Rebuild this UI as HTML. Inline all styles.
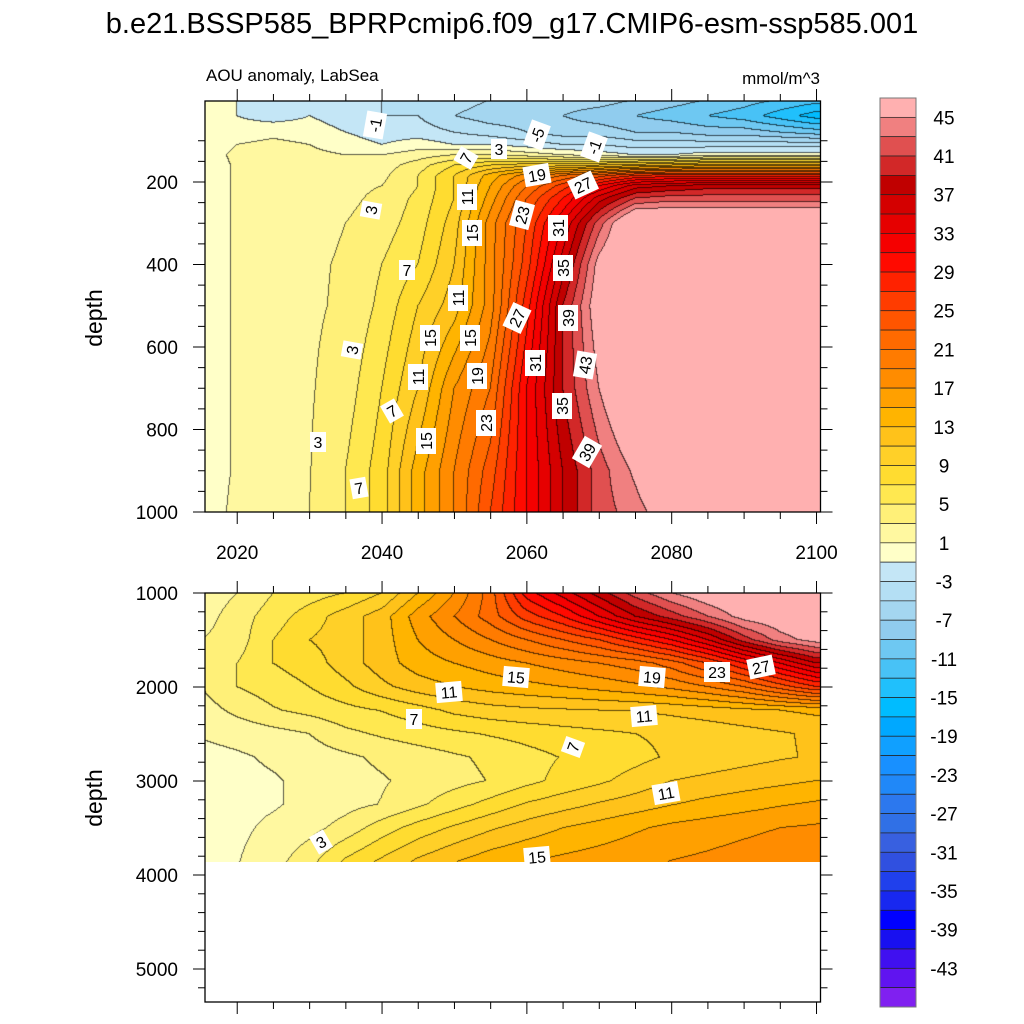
<!DOCTYPE html>
<html><head><meta charset="utf-8"><style>
body{margin:0;background:#fff;width:1024px;height:1024px;position:relative;overflow:hidden;font-family:"Liberation Sans",sans-serif}
canvas{position:absolute}
svg{position:absolute;left:0;top:0}
</style></head><body>
<canvas id="c1" width="616" height="411" style="left:205px;top:101px"></canvas>
<canvas id="c2" width="616" height="269" style="left:205px;top:593px"></canvas>
<svg id="s" width="1024" height="1024"></svg>
<script>
// ---------- data ----------
const years = [2015,2020,2025,2030,2035,2040,2045,2050,2055,2060,2065,2070,2075,2080,2085,2090,2095,2100];
const depthsTop = [0,40,80,110,135,160,185,210,240,300,400,500,700,900,1000];
const aouTop = [
 [-1,-1,-2,-2,-3,-3,-3,-4,-5,-5,-6,-6,-7,-8,-9,-10,-11,-12],
 [0,-1,-2,-1,-2,-3,-3,-5,-6,-6,-7,-8,-9,-10,-11,-12,-14,-16],
 [0.5,0,0.5,0,-1,-2,-2,-3,-4,-5,-6,-6,-7,-7,-8,-8,-9,-10],
 [0.5,1,1.5,1,0,-1,0,-1,-1,-2,-3,-3,-4,-4,-4,-4,-4,-4],
 [0.5,1.2,1.5,1.5,1,1,2,3,3,2,1,0,-1,-1,0,0,0,0],
 [0.5,1.1,2,2,2,2,4,7,9,10,10,11,12,13,14,14,14,14],
 [0.5,1.1,2,2,2,2.5,5,9,14,18,21,24,27,28,28,28,28,28],
 [0.5,1.1,2,2,2.5,3,5,9,15,21,26,31,36,37,38,38,38,38],
 [0.5,1.1,2,2.2,2.5,3.5,5.5,9,16,23,29,36,41,42,42,42,42,42],
 [0.5,1.1,2,2.5,3,4,6,10,18,25,33,42,50,50,50,50,50,50],
 [0.5,1.1,2.2,2.7,3.2,5,7,11,18,26,36,46,50,50,50,50,50,50],
 [0.5,1.1,2.3,2.7,3.3,5.5,9,12,18,28,39,47,50,50,50,50,50,50],
 [0.5,1.1,2.4,2.8,4,7,11,17,21,31,39,45,50,50,50,50,50,50],
 [0.5,1.1,2.5,2.9,5,8,14,19,24,31,37,42,45.5,50,50,50,50,50],
 [0.5,1.2,2.6,3,5,8,14,19,25,31,37,42,44,47,50,50,50,50]
];
const depthsBot = [1000,1250,1500,1750,2000,2250,2500,2750,3000,3250,3500,3870];
const aouBot = [
 [1.5,3,5,6,7,9,13,17,22,30,34,38,42,45,47,48,50,50],
 [2,4,6,8,10,12,16,19,22,26,29,33,37,40,43,46,47,48],
 [3,4,7,9,10,12,15,17,19,21,23,25,28,31,35,40,44,46],
 [3,5,7,8,10,12,14,15,16,17,18,19,20,22,25,29,33,37],
 [3,5,6,7,8.5,10.5,12,13,13.8,14.4,15,15.7,16.5,17.5,19,21,24,27],
 [2,3.5,4.8,5.6,6.4,7.1,8.2,9.5,10.2,10.6,10.8,11,11.1,11.5,12,12.5,13,13.5],
 [1.2,1.7,2.3,3,4.5,5.3,6,6.6,7.2,7.7,8.2,8.6,9,9.4,9.8,10.3,10.8,11.3],
 [0.3,0.7,1.3,2,2.6,3.4,4,4.7,5.4,6.3,7.1,7.7,8.4,9.3,9.8,10.3,10.8,11.2],
 [0.3,0.5,0.8,1.5,2.2,2.8,3.6,4.3,5.1,6.4,7.6,8.6,9.8,11,11.5,12,12.5,13],
 [0.3,0.5,0.8,1.5,2.3,3.1,4.6,6.2,7.7,9.2,10.2,11.2,12,12.9,13.6,14.2,14.8,15.3],
 [0.3,0.6,1.4,2.3,3.8,6,7.8,9.3,10.7,11.9,13,13.8,14.7,15.5,16,16.5,17,17.3],
 [0.5,0.9,2.2,4.4,7.5,9.5,11.5,13,14.3,15.1,15.6,16.1,16.6,17.1,17.5,18,18.5,19]
];
const levelLabels = [45,41,37,33,29,25,21,17,13,9,5,1,-3,-7,-11,-15,-19,-23,-27,-31,-35,-39,-43];
const palette = ["#ffb0b0","#f08080","#e05050","#d22828","#c00000","#d40000","#e60000","#f50000","#ff0a00","#ff2200","#ff3c00","#ff5500","#ff6a00","#ff7b00","#ff8c00","#ffa000","#ffb400","#ffc21a","#ffd028","#ffdc30","#ffe850","#fff078","#fff8a0","#ffffc8","#c4e6f6","#b4dff4","#a4d6f0","#90ccee","#6ec8f2","#48c2f6","#20c0fc","#00bcff","#00a8ff","#10a0ff","#1890ff","#2088f8","#2c78ee","#3070e6","#3860e0","#3050e0","#2040ec","#1828f0","#0000ff","#1810f0","#4010f0","#6014f0","#8020f0"];

// ---------- axes ----------
const X0=205, X1=820.5, YR0=2015.55, YR1=2100.55;
const xOf = y => X0 + (y-YR0)/(YR1-YR0)*(X1-X0);
const yrOfX = x => YR0 + (x-X0)/(X1-X0)*(YR1-YR0);
const T0=101, T1=512, yTop = d => 99.5 + d*0.4125, dTop = y => (y-99.5)/0.4125;
const B0=593, B1=1002, yBot = d => 593 + (d-1000)*0.094, dBot = y => 1000 + (y-593)/0.094;

function interp(arr, v){
  if(v<=arr[0]) return [0,0,0];
  const n=arr.length-1;
  if(v>=arr[n]) return [n,n,0];
  for(let i=0;i<n;i++) if(v<=arr[i+1]) return [i,i+1,(v-arr[i])/(arr[i+1]-arr[i])];
}
function field(grid, depths, yr, d){
  const [i0,i1,fi]=interp(depths,d), [j0,j1,fj]=interp(years,yr);
  const a=grid[i0][j0]*(1-fj)+grid[i0][j1]*fj, b=grid[i1][j0]*(1-fj)+grid[i1][j1]*fj;
  return a*(1-fi)+b*fi;
}
function bin(v){ if(v>=45) return 0; let k=Math.floor((45-v)/2)+1; return Math.min(46,Math.max(1,k)); }
function hex(c){return [parseInt(c.substr(1,2),16),parseInt(c.substr(3,2),16),parseInt(c.substr(5,2),16)];}
const pal = palette.map(hex);
function draw(id, grid, depths, dOf, top){
  const cv=document.getElementById(id), ctx=cv.getContext('2d'), W=cv.width, H=cv.height;
  const img=ctx.createImageData(W,H), bins=new Int16Array(W*H);
  for(let y=0;y<H;y++) for(let x=0;x<W;x++) bins[y*W+x]=bin(field(grid,depths,yrOfX(X0+x+0.5),dOf(top+y+0.5)));
  for(let y=0;y<H;y++) for(let x=0;x<W;x++){
    const b=bins[y*W+x]; let c=pal[b];
    const edge=(x<W-1&&bins[y*W+x+1]!==b)||(y<H-1&&bins[(y+1)*W+x]!==b);
    const p=(y*W+x)*4;
    if(edge){img.data[p]=c[0]*0.35;img.data[p+1]=c[1]*0.35;img.data[p+2]=c[2]*0.35;}
    else{img.data[p]=c[0];img.data[p+1]=c[1];img.data[p+2]=c[2];}
    img.data[p+3]=255;
  }
  ctx.putImageData(img,0,0);
}
draw('c1',aouTop,depthsTop,dTop,T0);
draw('c2',aouBot,depthsBot,dBot,B0);

const svg=document.getElementById('s'), NS='http://www.w3.org/2000/svg';
function el(tag,attrs,parent){const e=document.createElementNS(NS,tag);for(const k in attrs)e.setAttribute(k,attrs[k]);(parent||svg).appendChild(e);return e;}
function txt(x,y,s,size,anchor,name,extra){const t=el('text',Object.assign({x:x,y:y,'font-size':size,'text-anchor':anchor||'middle','font-family':'Liberation Sans, sans-serif'},extra||{}));t.textContent=s;return t;}

txt(512,33,'b.e21.BSSP585_BPRPcmip6.f09_g17.CMIP6-esm-ssp585.001',29,'middle','chart-title');
txt(206,81,'AOU anomaly, LabSea',17,'start','subtitle-left');
txt(820,84,'mmol/m^3',17,'end','units-label');

function frame(y0,y1,name){
  const r=el('rect',{x:X0,y:y0,width:X1-X0,height:y1-y0,fill:'none',stroke:'#000','stroke-width':1.3});
  
}
frame(T0,T1,'top-plot-frame'); frame(B0,B1,'bottom-plot-frame');
for(let yr=2020;yr<=2100;yr+=5){
  const x=xOf(yr), maj=yr%20===0, L=maj?12:7;
  [[T0,-1],[T1,1],[B0,-1],[B1,1]].forEach(([yy,s])=>{
    const t=el('line',{x1:x,x2:x,y1:yy,y2:yy+s*L,stroke:'#000','stroke-width':1});
    
  });
  if(maj) txt(x,559,String(yr),19,'middle','x-tick-label');
}
for(let d=100;d<=1000;d+=50){
  const y=yTop(d), maj=d%200===0, L=maj?12:7;
  [[X0,-1],[X1,1]].forEach(([xx,s])=>{
    const t=el('line',{x1:xx,x2:xx+s*L,y1:y,y2:y,stroke:'#000','stroke-width':1});
    
  });
  if(maj) txt(178,y+7,String(d),19,'end','y-tick-label-top');
}
for(let d=1000;d<=5300;d+=200){
  const y=yBot(d), maj=d%1000===0, L=maj?12:7;
  [[X0,-1],[X1,1]].forEach(([xx,s])=>{
    const t=el('line',{x1:xx,x2:xx+s*L,y1:y,y2:y,stroke:'#000','stroke-width':1});
    
  });
  if(maj) txt(178,y+7,String(d),19,'end','y-tick-label-bottom');
}
txt(0,0,'depth',23,'middle','y-axis-title-top',{transform:'translate(102,318) rotate(-90)'});
txt(0,0,'depth',23,'middle','y-axis-title-bottom',{transform:'translate(102,798) rotate(-90)'});

const labelsPx=[[375,125,'-1',-80],[537,135,'-5',-70],[594,147,'-1',-70],[499,149,'3',0],[466,158,'7',-60],[537,175,'19',-10],[583,185,'27',-25],[467,197,'11',-90],[522,215,'23',-75],[558,228,'31',-90],[472,233,'15',-90],[371,210,'3',-80],[563,268,'35',-90],[407,270,'7',0],[458,298,'11',-90],[517,318,'27',-65],[568,318,'39',-90],[430,338,'15',-90],[470,338,'15',-90],[352,350,'3',-80],[585,365,'43',-80],[535,363,'31',-90],[418,377,'11',-90],[477,376,'19',-90],[392,411,'7',-30],[562,406,'35',-90],[486,423,'23',-90],[426,441,'15',-90],[587,452,'39',-60],[318,442,'3',0],[359,488,'7',-10],
[516,677,'15',5],[652,677,'19',5],[717,672,'23',0],[761,667,'27',-12],[449,692,'11',-5],[644,716,'11',-5],[414,719,'7',0],[573,747,'7',-70],[666,793,'11',-10],[321,842,'3',-30],[537,857,'15',-5]];
labelsPx.forEach(([x,y,s,r])=>{
  const g=el('g',{transform:`translate(${x},${y}) rotate(${r})`});
  
  const w=s.length*10+6;
  el('rect',{x:-w/2,y:-10,width:w,height:20,fill:'#fff'},g);
  const t=el('text',{x:0,y:6,'font-size':16,'text-anchor':'middle','font-family':'Liberation Sans, sans-serif'},g);t.textContent=s;
});

const CB0=98, CB1=1007, bh=(CB1-CB0)/palette.length;
palette.forEach((c,i)=>{
  const r=el('rect',{x:880,y:CB0+i*bh,width:36,height:bh,fill:c,stroke:'#222','stroke-width':0.7});
  
});
el('rect',{x:880,y:CB0,width:36,height:CB1-CB0,fill:'none',stroke:'#777','stroke-width':1});
levelLabels.forEach(v=>{
  const i=(45-v)/2+1;
  txt(944,CB0+i*bh+7,String(v),19,'middle','colorbar-label');
});
</script>
</body></html>
